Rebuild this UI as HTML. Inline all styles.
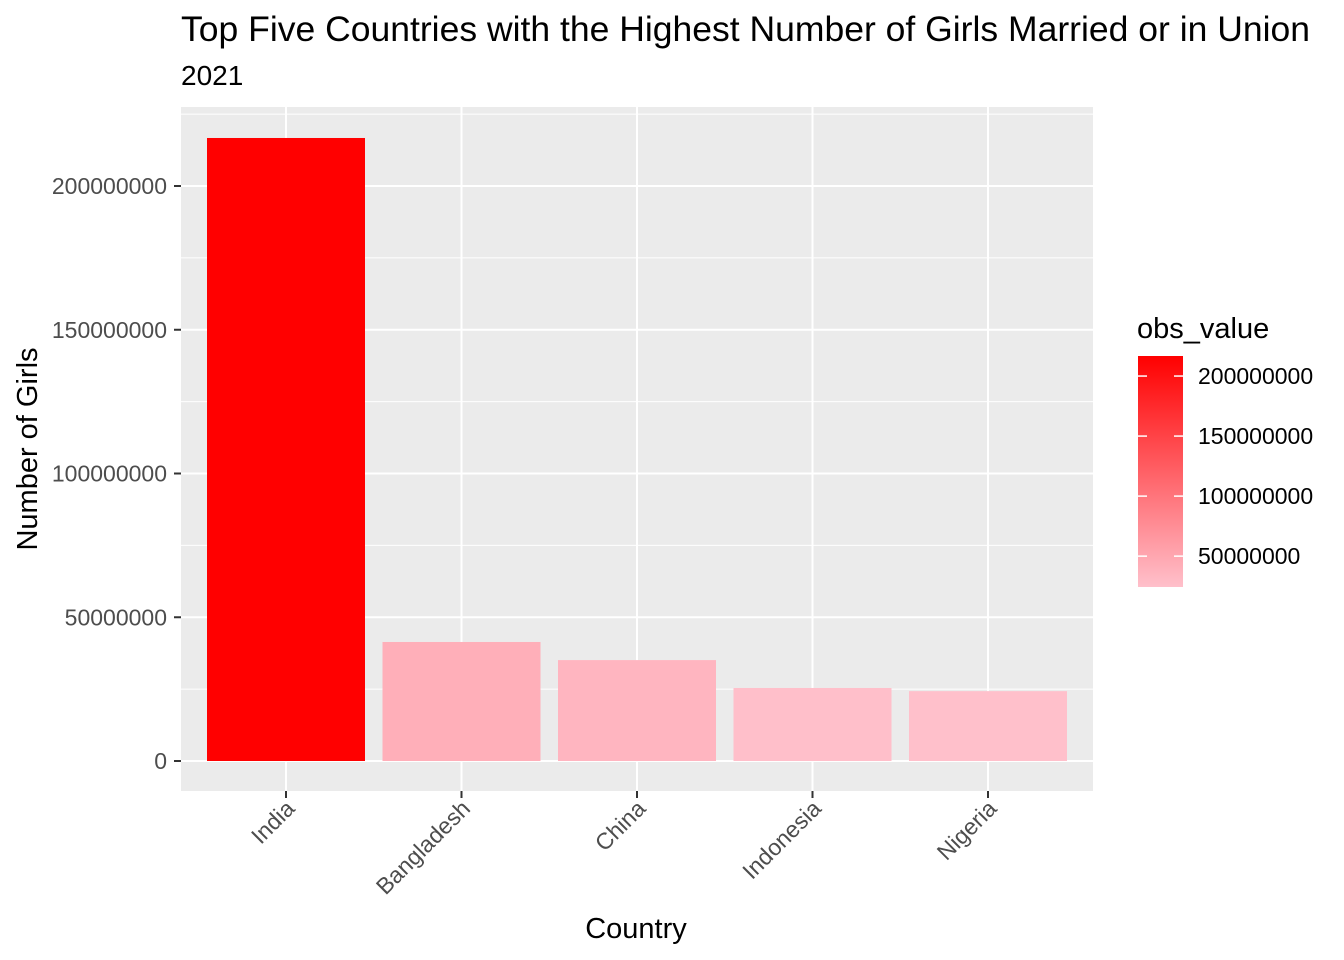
<!DOCTYPE html>
<html><head><meta charset="utf-8">
<style>body{margin:0;background:#fff}svg{display:block;font-family:"Liberation Sans",Arial,sans-serif}</style>
</head><body>
<svg id="chart" width="1344" height="960">
<text x="181" y="41" font-size="35" fill="#000" textLength="1129" lengthAdjust="spacingAndGlyphs">Top Five Countries with the Highest Number of Girls Married or in Union</text>
<text x="181" y="85" font-size="28" fill="#000">2021</text>
<rect x="181" y="107" width="912" height="684" fill="#EBEBEB"/>
<g id="grid"></g><g id="bars"></g><g id="axes"></g><g id="legend"></g>
<text x="636" y="938" font-size="29" text-anchor="middle">Country</text>
<text transform="translate(37,449) rotate(-90)" font-size="29" text-anchor="middle">Number of Girls</text>
</svg>
<script>
const categories=["India","Bangladesh","China","Indonesia","Nigeria"];
const values=[216700000,41400000,35100000,25400000,24300000];
const yTicks=[0,50000000,100000000,150000000,200000000];
const yMinor=[25000000,75000000,125000000,175000000,225000000];
const legendTicks=[50000000,100000000,150000000,200000000];
const NS="http://www.w3.org/2000/svg";
function mk(t,a,p){const e=document.createElementNS(NS,t);for(const k in a)e.setAttribute(k,a[k]);p.appendChild(e);return e;}
const y=v=>761-v*575/200000000;
const x=i=>286+i*175.5;
const vmin=Math.min(...values),vmax=Math.max(...values);
function col(v){const t=(v-vmin)/(vmax-vmin);const g=Math.round(192*(1-t)),b=Math.round(203*(1-t));return `rgb(255,${g},${b})`;}
const grid=document.getElementById('grid');
yMinor.forEach(v=>{if(y(v)>107){const l=mk('line',{x1:181,x2:1093,y1:y(v),y2:y(v),stroke:'#fff','stroke-width':1},grid);}});
yTicks.forEach(v=>{const l=mk('line',{x1:181,x2:1093,y1:y(v),y2:y(v),stroke:'#fff','stroke-width':2},grid);});
categories.forEach((c,i)=>{const l=mk('line',{x1:x(i),x2:x(i),y1:107,y2:791,stroke:'#fff','stroke-width':2},grid);});
const bars=document.getElementById('bars');
values.forEach((v,i)=>{const r=mk('rect',{x:x(i)-79,width:158,y:y(v),height:y(0)-y(v),fill:col(v)},bars);});
const axes=document.getElementById('axes');
yTicks.forEach(v=>{mk('line',{x1:174,x2:181,y1:y(v),y2:y(v),stroke:'#333','stroke-width':2},axes);const t=mk('text',{x:167,y:y(v)+8,'font-size':23,'text-anchor':'end',fill:'#4D4D4D'},axes);t.textContent=v;});
categories.forEach((c,i)=>{mk('line',{x1:x(i),x2:x(i),y1:791,y2:798,stroke:'#333','stroke-width':2},axes);const t=mk('text',{transform:`translate(${x(i)+10},${810}) rotate(-45)`,'font-size':23,'text-anchor':'end',fill:'#4D4D4D'},axes);t.textContent=c;});
const lg=document.getElementById('legend');
const lt=mk('text',{x:1137,y:338,'font-size':29},lg);lt.textContent='obs_value';
const defs=mk('defs',{},lg);const gr=mk('linearGradient',{id:'gr',x1:0,y1:1,x2:0,y2:0},defs);
mk('stop',{offset:0,'stop-color':col(vmin)},gr);mk('stop',{offset:1,'stop-color':col(vmax)},gr);
const ly=v=>587-(v-vmin)/(vmax-vmin)*231;
const cb=mk('rect',{x:1138,y:356,width:45,height:231,fill:'url(#gr)'},lg);
legendTicks.forEach(v=>{mk('line',{x1:1138,x2:1147,y1:ly(v),y2:ly(v),stroke:'#fff','stroke-width':1.5},lg);mk('line',{x1:1174,x2:1183,y1:ly(v),y2:ly(v),stroke:'#fff','stroke-width':1.5},lg);const t=mk('text',{x:1198,y:ly(v)+8,'font-size':23},lg);t.textContent=v;});
</script>
</body></html>
